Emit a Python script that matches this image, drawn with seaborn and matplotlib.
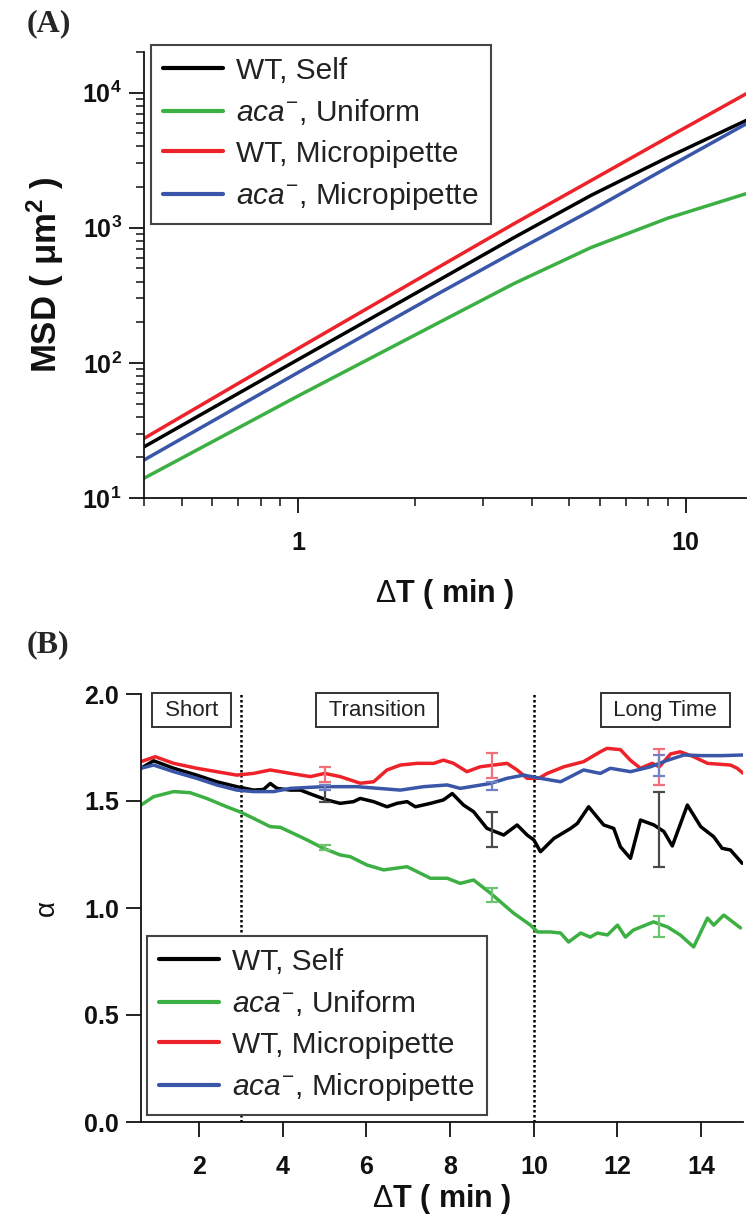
import numpy as np
import pandas as pd
import matplotlib
matplotlib.use("Agg")
import matplotlib.pyplot as plt
from matplotlib.ticker import LogLocator, NullFormatter
import seaborn as sns

sns.set_theme(style="ticks")
plt.rcParams["font.family"] = ["Liberation Sans", "DejaVu Sans"]
plt.rcParams["mathtext.fontset"] = "custom"
plt.rcParams["mathtext.rm"] = "Liberation Sans"
plt.rcParams["mathtext.it"] = "Liberation Sans:italic"
plt.rcParams["mathtext.bf"] = "Liberation Sans:bold"

# ---------------- data ----------------
labels = ["WT, Self", r"$\mathit{aca}^{-}$, Uniform", "WT, Micropipette", r"$\mathit{aca}^{-}$, Micropipette"]
colors = ["#000000", "#3cb043", "#ee2229", "#3a56a8"]
err_colors = ["#4a4a4a", "#6cc46f", "#f2707a", "#6f82c4"]

# Panel A: MSD vs time lag
msd_T = [0.4, 1.0, 2.3, 3.6, 5.7, 9.0, 14.3]
msd_wt_self = [23.9, 106, 408, 845, 1740, 3330, 6220]
msd_aca_uniform = [14.0, 57, 198, 386, 715, 1180, 1787]
msd_wt_pipette = [27.6, 128, 510, 1070, 2240, 4680, 9800]
msd_aca_pipette = [19.1, 85, 326, 661, 1345, 2810, 5870]

# Panel B: alpha vs time lag
T_wt_self = [0.61, 0.91, 1.39, 1.94, 2.42, 2.9, 3.3, 3.54, 3.7, 3.86, 4.18, 4.42, 4.73, 5.05, 5.37, 5.69,
             5.85, 6.17, 6.49, 6.73, 6.97, 7.17, 7.53, 7.84, 8.05, 8.32, 8.56, 8.88, 9.28, 9.6, 9.84,
             10.0, 10.16, 10.48, 10.88, 11.04, 11.31, 11.67, 11.91, 12.07, 12.31, 12.55, 12.87, 13.11,
             13.31, 13.67, 13.99, 14.3, 14.5, 14.7, 14.98]
a_wt_self = [1.653, 1.688, 1.653, 1.621, 1.59, 1.567, 1.551, 1.554, 1.582, 1.559, 1.551, 1.551, 1.528,
             1.505, 1.489, 1.497, 1.512, 1.497, 1.473, 1.489, 1.497, 1.473, 1.489, 1.505, 1.535, 1.481,
             1.45, 1.372, 1.341, 1.388, 1.341, 1.318, 1.263, 1.325, 1.372, 1.395, 1.473, 1.388, 1.372,
             1.286, 1.232, 1.411, 1.388, 1.357, 1.29, 1.481, 1.38, 1.333, 1.279, 1.271, 1.209]

T_aca_uniform = [0.61, 0.91, 1.39, 1.78, 2.18, 2.66, 2.98, 3.3, 3.7, 3.94, 4.42, 4.58, 4.97, 5.37, 5.61,
                 6.01, 6.41, 6.97, 7.53, 7.93, 8.24, 8.56, 8.96, 9.51, 9.92, 10.09, 10.4, 10.64, 10.83,
                 11.12, 11.35, 11.52, 11.76, 12.0, 12.19, 12.38, 12.86, 13.2, 13.5, 13.82, 14.15, 14.3,
                 14.54, 14.94]
a_aca_uniform = [1.481, 1.52, 1.544, 1.539, 1.512, 1.473, 1.449, 1.419, 1.38, 1.377, 1.333, 1.318, 1.279,
                 1.248, 1.24, 1.201, 1.178, 1.193, 1.139, 1.139, 1.115, 1.131, 1.07, 0.977, 0.92, 0.888,
                 0.888, 0.883, 0.841, 0.883, 0.864, 0.883, 0.874, 0.92, 0.864, 0.897, 0.935, 0.911, 0.874,
                 0.818, 0.953, 0.92, 0.967, 0.907]

T_wt_pipette = [0.61, 0.95, 1.39, 1.94, 2.42, 2.9, 3.3, 3.7, 4.18, 4.66, 5.0, 5.37, 5.85, 6.17, 6.49,
                6.81, 7.21, 7.61, 7.84, 8.08, 8.4, 8.72, 9.04, 9.36, 9.6, 9.84, 10.12, 10.32, 10.72,
                11.19, 11.59, 11.75, 12.07, 12.31, 12.55, 12.83, 13.0, 13.27, 13.5, 13.82, 14.15, 14.7,
                14.86, 15.0]
a_wt_pipette = [1.684, 1.707, 1.676, 1.653, 1.637, 1.621, 1.629, 1.645, 1.629, 1.614, 1.629, 1.614, 1.583,
                1.59, 1.645, 1.668, 1.676, 1.676, 1.691, 1.676, 1.637, 1.66, 1.668, 1.676, 1.645, 1.606,
                1.606, 1.629, 1.66, 1.684, 1.73, 1.746, 1.74, 1.69, 1.653, 1.676, 1.66, 1.72, 1.73, 1.707,
                1.676, 1.668, 1.653, 1.63]

T_aca_pipette = [0.61, 0.91, 1.39, 1.94, 2.42, 2.9, 3.3, 3.78, 4.18, 4.97, 5.77, 6.81, 7.37, 7.93, 8.24,
                 8.96, 9.36, 9.76, 10.16, 10.64, 11.19, 11.59, 11.83, 12.31, 12.79, 13.19, 13.59, 14.0,
                 14.5, 15.0]
a_aca_pipette = [1.653, 1.668, 1.637, 1.606, 1.575, 1.551, 1.544, 1.544, 1.559, 1.567, 1.567, 1.551, 1.567,
                 1.575, 1.559, 1.582, 1.606, 1.621, 1.606, 1.59, 1.645, 1.629, 1.653, 1.637, 1.66, 1.69,
                 1.715, 1.712, 1.712, 1.715]

err_T = [5, 9, 13]
err_center = [[1.536, 1.368, 1.368], [1.282, 1.061, 0.913], [1.625, 1.666, 1.66], [1.565, 1.57, 1.666]]
err_half = [[0.04, 0.082, 0.175], [0.012, 0.031, 0.05], [0.035, 0.06, 0.085], [0.012, 0.02, 0.05]]

regions = ["Short", "Transition", "Long Time"]
region_x = [1.81, 6.26, 13.14]
boundaries = [3, 10]

# ---------------- figure ----------------
fig = plt.figure(figsize=(7.47, 12.19), dpi=100)
W, H = 747.0, 1219.0
axA = fig.add_axes([144 / W, 1 - 498 / H, 602 / W, 446 / H])
axB = fig.add_axes([141 / W, 1 - 1122 / H, 602 / W, 428 / H])

dfA = pd.concat([
    pd.DataFrame({"T": msd_T, "MSD": v, "cond": lab})
    for v, lab in zip([msd_wt_self, msd_aca_uniform, msd_wt_pipette, msd_aca_pipette], labels)
])
dfB = pd.concat([
    pd.DataFrame({"T": t, "alpha": a, "cond": lab})
    for t, a, lab in zip([T_wt_self, T_aca_uniform, T_wt_pipette, T_aca_pipette],
                         [a_wt_self, a_aca_uniform, a_wt_pipette, a_aca_pipette], labels)
])
pal = dict(zip(labels, colors))

sns.lineplot(data=dfA, x="T", y="MSD", hue="cond", hue_order=labels, palette=pal,
             linewidth=2.5, errorbar=None, ax=axA)
sns.lineplot(data=dfB, x="T", y="alpha", hue="cond", hue_order=labels, palette=pal,
             linewidth=2.5, errorbar=None, ax=axB)

for i in range(4):
    axB.errorbar(err_T, err_center[i], yerr=err_half[i], fmt="none", ecolor=err_colors[i],
                 elinewidth=1.6, capsize=4.5, capthick=1.6, zorder=5)

# ---- panel A axes ----
axA.set_xscale("log")
axA.set_yscale("log")
axA.set_xlim(0.4, 14.3)
axA.set_ylim(10, 2e4)
axA.set_xticks([1, 10])
axA.set_xticklabels(["1", "10"])
axA.xaxis.set_minor_locator(LogLocator(base=10, subs=np.arange(2, 10), numticks=20))
axA.xaxis.set_minor_formatter(NullFormatter())
axA.set_yticks([10, 100, 1000, 10000])
axA.set_yticklabels([r"$\mathbf{10^{1}}$", r"$\mathbf{10^{2}}$", r"$\mathbf{10^{3}}$", r"$\mathbf{10^{4}}$"])
axA.yaxis.set_minor_locator(LogLocator(base=10, subs=np.arange(2, 10), numticks=20))
axA.yaxis.set_minor_formatter(NullFormatter())

# ---- panel B axes ----
axB.set_xlim(0.61, 15.0)
axB.set_ylim(0, 2.0)
axB.set_xticks([2, 4, 6, 8, 10, 12, 14])
axB.set_xticklabels(["2", "4", "6", "8", "10", "12", "14"])
axB.set_yticks([0.0, 0.5, 1.0, 1.5, 2.0])
axB.set_yticklabels(["0.0", "0.5", "1.0", "1.5", "2.0"])

for b in boundaries:
    axB.axvline(b, color="black", linestyle=(0, (1, 1)), linewidth=1.8, zorder=1)

for name, xc in zip(regions, region_x):
    axB.text(xc, 1.925, " " + name + " ", ha="center", va="center", fontsize=16, color="#222222",
             bbox=dict(boxstyle="square,pad=0.3", fc="white", ec="#333333", lw=1.4), zorder=6)

for ax in (axA, axB):
    sns.despine(ax=ax)
    for s in ("left", "bottom"):
        ax.spines[s].set_linewidth(1.3)
        ax.spines[s].set_color("#111111")
    ax.tick_params(which="major", direction="out", length=11, width=1.3, color="#111111",
                   labelsize=18, labelcolor="#111111")
    ax.tick_params(which="minor", direction="out", length=5.5, width=1.1, color="#111111")
    ax.tick_params(axis="x", which="major", pad=13)
    ax.tick_params(axis="y", which="major", pad=5)
    for lab in ax.get_xticklabels() + ax.get_yticklabels():
        lab.set_fontweight("bold")
    ax.set_facecolor("white")

axA.set_xlabel(r"$\Delta$T ( min )", fontsize=22, fontweight="bold", color="#111111")
axA.set_ylabel("MSD ( μm$^{\\mathbf{2}}$ )", fontsize=25, fontweight="bold", color="#111111")
axA.xaxis.set_label_coords(0.5, -0.178)
axA.yaxis.set_label_coords(-0.13, 0.5)

axB.set_xlabel(r"$\Delta$T ( min )", fontsize=22, fontweight="bold", color="#111111")
axB.set_ylabel("α", fontsize=20, color="#111111")
axB.xaxis.set_label_coords(0.5, -0.14)
axB.yaxis.set_label_coords(-0.135, 0.5)

# legends
for ax, anchor in ((axA, (0.012, 1.016)), (axB, (0.01, 0.435))):
    old = ax.get_legend()
    handles = old.legend_handles
    for h in handles:
        h.set_linewidth(3)
    leg = ax.legend(handles, labels, loc="upper left", bbox_to_anchor=anchor, borderaxespad=0,
                    fontsize=21.5, frameon=True, fancybox=False, framealpha=1, edgecolor="#444444",
                    handlelength=2.0, handletextpad=0.45, labelspacing=0.42, borderpad=0.4)
    leg.get_frame().set_linewidth(1.5)
    for t in leg.get_texts():
        t.set_color("#222222")
    leg.set_zorder(10)

fig.text(27 / W, 1 - 9 / H, "(A)", fontsize=23, fontweight="bold", family="Liberation Serif",
         va="top", ha="left")
fig.text(27 / W, 1 - 630 / H, "(B)", fontsize=23, fontweight="bold", family="Liberation Serif",
         va="top", ha="left")

fig.savefig("out.png", dpi=100, facecolor="white")
